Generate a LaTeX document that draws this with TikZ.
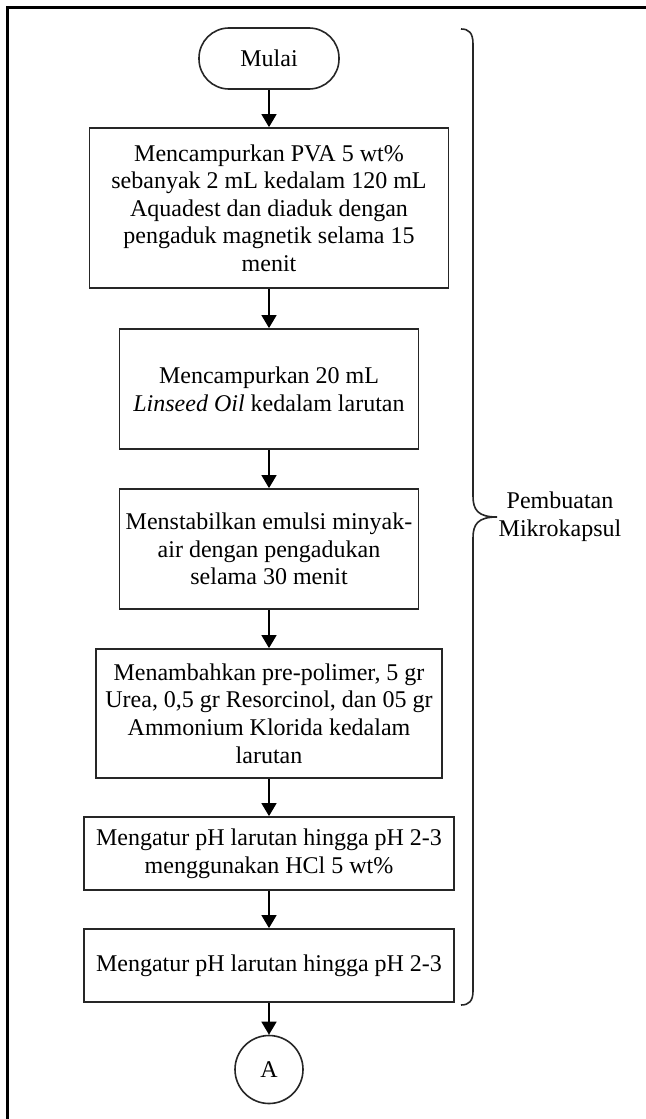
\documentclass[tikz,border=0pt]{standalone}
\usepackage{fontspec}
\setmainfont{Liberation Serif}
\usetikzlibrary{arrows.meta}
\begin{document}
\begin{tikzpicture}[x=0.5pt,y=-0.5pt,
  every node/.style={font=\fontsize{12}{13.8}\selectfont},
  procbox/.style={draw=black!85, line width=0.9pt, rectangle, inner sep=0pt, align=center},
  termbox/.style={draw=black!85, line width=0.8pt, rectangle, rounded corners=15pt, inner sep=0pt, minimum width=70pt, minimum height=30.5pt},
  connbox/.style={draw=black!85, line width=0.8pt, circle, inner sep=0pt, minimum size=34pt},
  flow/.style={draw=black, line width=0.8pt, -{Triangle[length=6.5pt,width=7.5pt]}},
  bracestyle/.style={draw=black!85, line width=0.8pt},
  frame/.style={draw=black, line width=1.5pt}
]
\useasboundingbox (0,0) rectangle (646,1119);
\fill[white] (0,0) rectangle (646,1119);
\draw[frame] (7,1119) -- (7,7) -- (646,7);

\node[termbox] (mulai) at (269,58.5) {Mulai};
\node[procbox, minimum width=179.5pt, minimum height=80pt] (b1) at (269,208)
  {Mencampurkan PVA 5 wt\%\\sebanyak 2 mL kedalam 120 mL\\Aquadest dan diaduk dengan\\pengaduk magnetik selama 15\\menit};
\node[procbox, minimum width=149.5pt, minimum height=60pt] (b2) at (269,389)
  {Mencampurkan 20 mL\\\textit{Linseed Oil} kedalam larutan};
\node[procbox, minimum width=149.5pt, minimum height=60pt] (b3) at (269,549)
  {Menstabilkan emulsi minyak-\\air dengan pengadukan\\selama 30 menit};
\node[procbox, minimum width=173pt, minimum height=64.5pt] (b4) at (269,713.5)
  {Menambahkan pre-polimer, 5 gr\\Urea, 0,5 gr Resorcinol, dan 05 gr\\Ammonium Klorida kedalam\\larutan};
\node[procbox, minimum width=185pt, minimum height=36.5pt] (b5) at (269,853.5)
  {Mengatur pH larutan hingga pH 2-3\\menggunakan HCl 5 wt\%};
\node[procbox, minimum width=185pt, minimum height=36.5pt] (b6) at (269,965.5)
  {Mengatur pH larutan hingga pH 2-3};
\node[connbox] (A) at (269,1069.5) {A};

\draw[flow] (mulai) -- (b1);
\draw[flow] (b1) -- (b2);
\draw[flow] (b2) -- (b3);
\draw[flow] (b3) -- (b4);
\draw[flow] (b4) -- (b5);
\draw[flow] (b5) -- (b6);
\draw[flow] (b6) -- (A);

\draw[bracestyle] (461,29) .. controls (469,29) and (473,33) .. (473,44)
  -- (473,496) .. controls (473,510) and (478,517) .. (497,517)
  .. controls (478,517) and (473,524) .. (473,538)
  -- (473,991) .. controls (473,1001) and (469,1005) .. (461,1005);
\node[align=center] (lbl) at (560,517) {Pembuatan\\Mikrokapsul};
\end{tikzpicture}
\end{document}
